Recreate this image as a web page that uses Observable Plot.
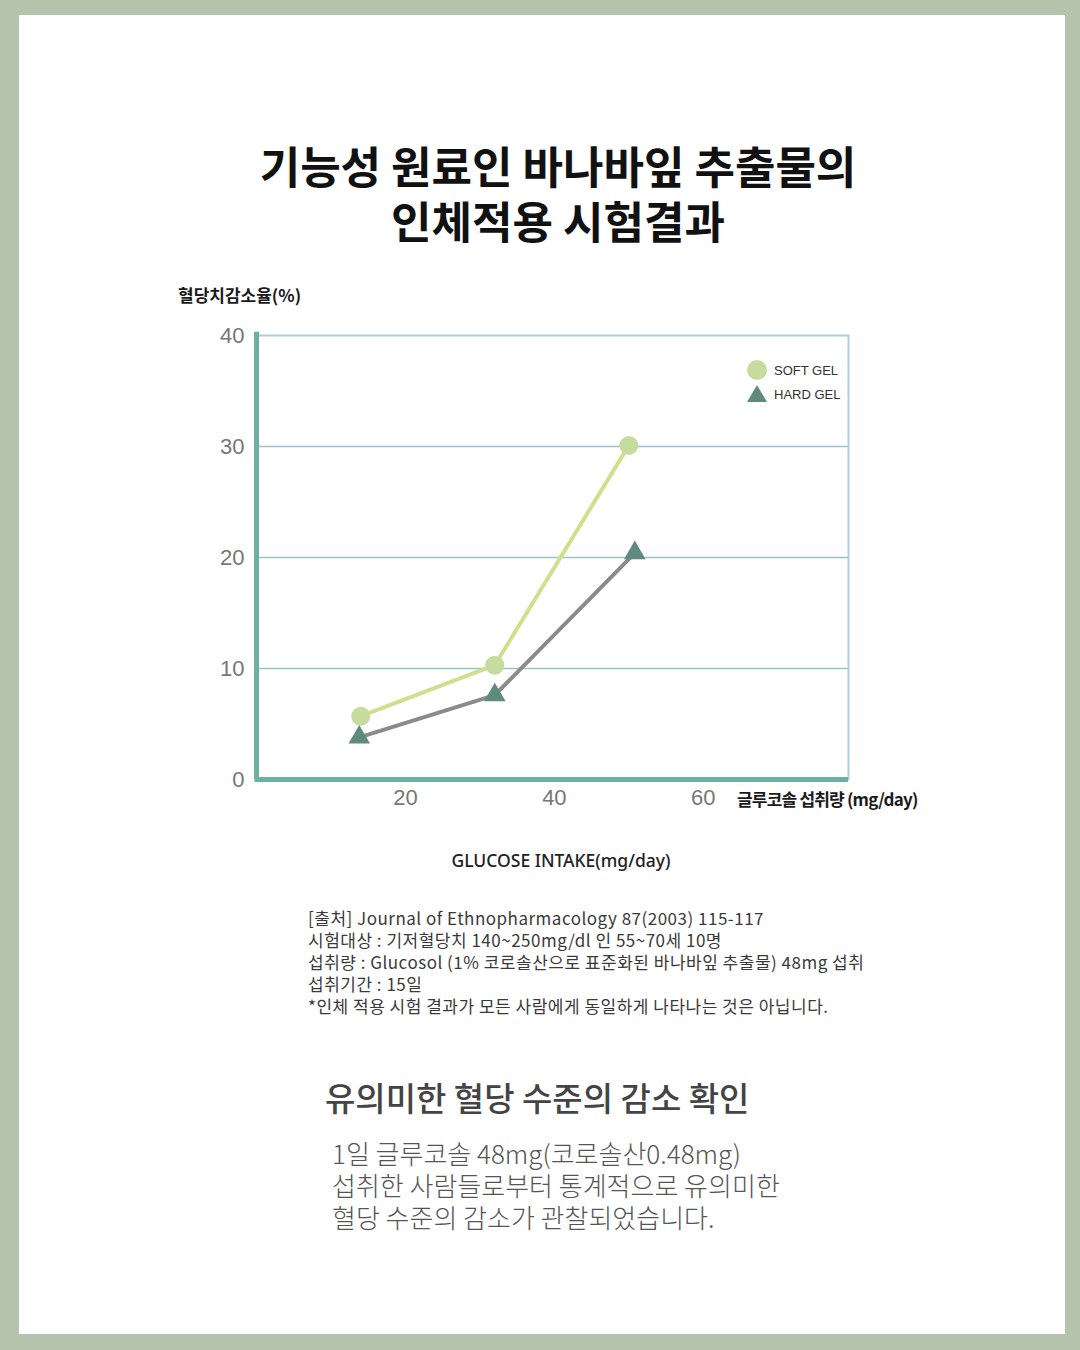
<!DOCTYPE html>
<html><head><meta charset="utf-8">
<script src="https://cdn.jsdelivr.net/npm/d3@7"></script>
<script src="https://cdn.jsdelivr.net/npm/@observablehq/plot@0.6"></script>
<style>
html,body{margin:0;padding:0;}
body{width:1080px;height:1350px;background:#b4c3ac;position:relative;overflow:hidden;font-family:"Noto Sans CJK KR","Noto Sans",sans-serif;}
#card{position:absolute;left:19px;top:15px;width:1046px;height:1319px;background:#fff;}
.abs{position:absolute;white-space:nowrap;}
.title{position:absolute;white-space:nowrap;left:0;width:1116px;text-align:center;font-size:44px;font-weight:700;line-height:54px;height:54px;color:#111;}
#ylab{left:178px;top:282px;font-size:17px;font-weight:700;color:#1a1a1a;}
#xlab{left:737px;top:786px;font-size:17px;font-weight:700;letter-spacing:-0.8px;color:#1a1a1a;}
#xlab2{left:0;width:1122px;text-align:center;top:848px;font-size:17.5px;font-weight:500;color:#222;font-family:"Noto Sans","Noto Sans CJK KR",sans-serif;}
.note{position:absolute;left:308px;white-space:nowrap;font-size:17px;line-height:20px;height:20px;letter-spacing:0.5px;color:#3a3a3a;}
#head{left:325px;top:1073px;font-size:33px;font-weight:500;color:#444;}
.body2{position:absolute;white-space:nowrap;left:332px;font-size:26px;line-height:30px;height:30px;font-weight:300;color:#555;}
#legend{left:746px;top:358px;font-size:13px;color:#333;font-family:"Liberation Sans","Noto Sans",sans-serif;}
#legend div{height:24px;display:flex;align-items:center;}
#legend svg{margin-right:6px;}
#chart{position:absolute;left:0;top:300px;}
</style></head>
<body>
<div id="card"></div>
<div class="title" style="top:138px">기능성 원료인 바나바잎 추출물의</div>
<div class="title" style="top:193px">인체적용 시험결과</div>
<div id="ylab" class="abs">혈당치감소율(%)</div>
<div id="chart"></div>
<div id="xlab" class="abs">글루코솔 섭취량 (mg/day)</div>
<div id="xlab2" class="abs">GLUCOSE INTAKE(mg/day)</div>
<div id="legend" class="abs"></div>
<div id="notes"></div>
<div id="head" class="abs">유의미한 혈당 수준의 감소 확인</div>
<div class="body2" style="top:1138px">1일 글루코솔 48mg(코로솔산0.48mg)</div>
<div class="body2" style="top:1170px">섭취한 사람들로부터 통계적으로 유의미한</div>
<div class="body2" style="top:1202px">혈당 수준의 감소가 관찰되었습니다.</div>
<script>
// data
const softX = [14, 32, 50];
const softY = [5.7, 10.3, 30.1];
const hardX = [13.8, 32, 50.8];
const hardY = [3.8, 7.6, 20.4];
const yTicks = [0, 10, 20, 30, 40];
const xTicks = [20, 40, 60];
const gridY = [10, 20, 30];
const seriesNames = ["SOFT GEL", "HARD GEL"];
const noteLines = [
  "[출처] Journal of Ethnopharmacology 87(2003) 115-117",
  "시험대상 : 기저혈당치 140~250mg/dl 인 55~70세 10명",
  "섭취량 : Glucosol (1% 코로솔산으로 표준화된 바나바잎 추출물) 48mg 섭취",
  "섭취기간 : 15일",
  "*인체 적용 시험 결과가 모든 사람에게 동일하게 나타나는 것은 아닙니다."
];

const soft = softX.map((x, i) => ({x, y: softY[i]}));
const hard = hardX.map((x, i) => ({x, y: hardY[i]}));

const softLine = "#cfe08c", softDot = "#c6dc9e", hardLine = "#8b8b8b", hardDot = "#5f8a7e";

const plot = Plot.plot({
  width: 1080, height: 560,
  marginLeft: 256, marginRight: 232, marginTop: 35, marginBottom: 81,
  style: {fontFamily: "'Liberation Sans', 'Noto Sans', sans-serif", fontSize: "22px", color: "#777", background: "transparent"},
  x: {domain: [0, 79.5], ticks: xTicks, tickSize: 0, tickPadding: 10, label: null},
  y: {domain: [0, 40], ticks: yTicks, tickSize: 0, tickPadding: 12, label: null},
  marks: [
    Plot.ruleY(gridY, {stroke: "#9cc3ca", strokeWidth: 1.5}),
    Plot.frame({stroke: "#aad0d8", strokeWidth: 2}),
    Plot.ruleX([0], {stroke: "#6cb0a3", strokeWidth: 5, y1: 0, y2: 40.3}),
    Plot.ruleY([0], {stroke: "#6cb0a3", strokeWidth: 5, x1: -0.2, x2: 79.5}),
    Plot.line(hard, {x: "x", y: "y", stroke: hardLine, strokeWidth: 4}),
    Plot.line(soft, {x: "x", y: "y", stroke: softLine, strokeWidth: 4}),
    Plot.dot(soft, {x: "x", y: "y", r: 9.5, fill: softDot}),
    Plot.dot(hard, {x: "x", y: "y", r: 8, symbol: "triangle", fill: hardDot})
  ]
});
document.getElementById("chart").appendChild(plot);

const leg = document.getElementById("legend");
leg.innerHTML =
  `<div><svg width="22" height="22"><circle cx="11" cy="11" r="10" fill="${softDot}"/></svg>${seriesNames[0]}</div>` +
  `<div><svg width="22" height="22"><polygon points="11,2 21,19 1,19" fill="${hardDot}"/></svg>${seriesNames[1]}</div>`;

const notes = document.getElementById("notes");
noteLines.forEach((t, i) => {
  const d = document.createElement("div");
  d.className = "note";
  d.style.top = (908 + i * 22) + "px";
  d.textContent = t;
  notes.appendChild(d);
});
</script>
</body></html>
